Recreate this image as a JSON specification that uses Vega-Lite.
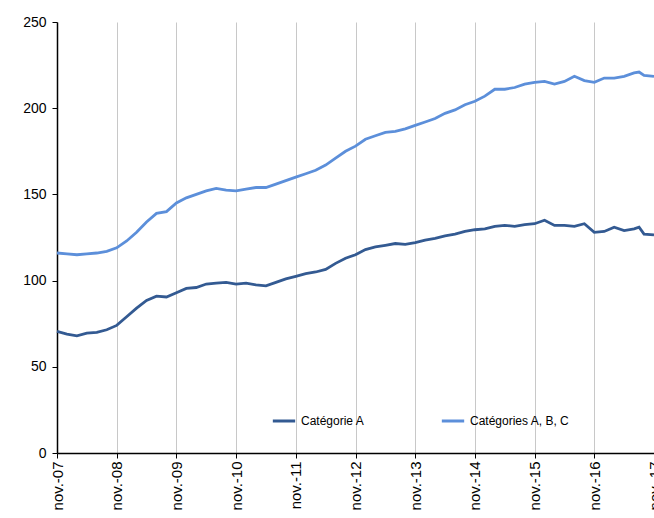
{
  "$schema": "https://vega.github.io/schema/vega-lite/v6.json",
  "width": 597,
  "height": 431,
  "autosize": "none",
  "padding": {"left": 57, "top": 22, "right": 0, "bottom": 65},
  "data": {
    "values": [
      {"m":0,"s":"Catégorie A","v":70.5},{"m":2,"s":"Catégorie A","v":69},{"m":4,"s":"Catégorie A","v":68},{"m":6,"s":"Catégorie A","v":69.5},{"m":8,"s":"Catégorie A","v":70},{"m":10,"s":"Catégorie A","v":71.5},{"m":12,"s":"Catégorie A","v":74},{"m":14,"s":"Catégorie A","v":79},{"m":16,"s":"Catégorie A","v":84},{"m":18,"s":"Catégorie A","v":88.5},{"m":20,"s":"Catégorie A","v":91},{"m":22,"s":"Catégorie A","v":90.5},{"m":24,"s":"Catégorie A","v":93},{"m":26,"s":"Catégorie A","v":95.5},{"m":28,"s":"Catégorie A","v":96},{"m":30,"s":"Catégorie A","v":98},{"m":32,"s":"Catégorie A","v":98.5},{"m":34,"s":"Catégorie A","v":99},{"m":36,"s":"Catégorie A","v":98},{"m":38,"s":"Catégorie A","v":98.5},{"m":40,"s":"Catégorie A","v":97.5},{"m":42,"s":"Catégorie A","v":97},{"m":44,"s":"Catégorie A","v":99},{"m":46,"s":"Catégorie A","v":101},{"m":48,"s":"Catégorie A","v":102.5},{"m":50,"s":"Catégorie A","v":104},{"m":52,"s":"Catégorie A","v":105},{"m":54,"s":"Catégorie A","v":106.5},{"m":56,"s":"Catégorie A","v":110},{"m":58,"s":"Catégorie A","v":113},{"m":60,"s":"Catégorie A","v":115},{"m":62,"s":"Catégorie A","v":118},{"m":64,"s":"Catégorie A","v":119.5},{"m":66,"s":"Catégorie A","v":120.5},{"m":68,"s":"Catégorie A","v":121.5},{"m":70,"s":"Catégorie A","v":121},{"m":72,"s":"Catégorie A","v":122},{"m":74,"s":"Catégorie A","v":123.5},{"m":76,"s":"Catégorie A","v":124.5},{"m":78,"s":"Catégorie A","v":126},{"m":80,"s":"Catégorie A","v":127},{"m":82,"s":"Catégorie A","v":128.5},{"m":84,"s":"Catégorie A","v":129.5},{"m":86,"s":"Catégorie A","v":130},{"m":88,"s":"Catégorie A","v":131.5},{"m":90,"s":"Catégorie A","v":132},{"m":92,"s":"Catégorie A","v":131.5},{"m":94,"s":"Catégorie A","v":132.5},{"m":96,"s":"Catégorie A","v":133},{"m":98,"s":"Catégorie A","v":135},{"m":100,"s":"Catégorie A","v":132},{"m":102,"s":"Catégorie A","v":132},{"m":104,"s":"Catégorie A","v":131.5},{"m":106,"s":"Catégorie A","v":133},{"m":108,"s":"Catégorie A","v":128},{"m":110,"s":"Catégorie A","v":128.5},{"m":112,"s":"Catégorie A","v":131},{"m":114,"s":"Catégorie A","v":129},{"m":116,"s":"Catégorie A","v":130},{"m":117,"s":"Catégorie A","v":131},{"m":118,"s":"Catégorie A","v":127},{"m":120,"s":"Catégorie A","v":126.5},
      {"m":0,"s":"Catégories A, B, C","v":116},{"m":2,"s":"Catégories A, B, C","v":115.5},{"m":4,"s":"Catégories A, B, C","v":115},{"m":6,"s":"Catégories A, B, C","v":115.5},{"m":8,"s":"Catégories A, B, C","v":116},{"m":10,"s":"Catégories A, B, C","v":117},{"m":12,"s":"Catégories A, B, C","v":119},{"m":14,"s":"Catégories A, B, C","v":123},{"m":16,"s":"Catégories A, B, C","v":128},{"m":18,"s":"Catégories A, B, C","v":134},{"m":20,"s":"Catégories A, B, C","v":139},{"m":22,"s":"Catégories A, B, C","v":140},{"m":24,"s":"Catégories A, B, C","v":145},{"m":26,"s":"Catégories A, B, C","v":148},{"m":28,"s":"Catégories A, B, C","v":150},{"m":30,"s":"Catégories A, B, C","v":152},{"m":32,"s":"Catégories A, B, C","v":153.5},{"m":34,"s":"Catégories A, B, C","v":152.5},{"m":36,"s":"Catégories A, B, C","v":152},{"m":38,"s":"Catégories A, B, C","v":153},{"m":40,"s":"Catégories A, B, C","v":154},{"m":42,"s":"Catégories A, B, C","v":154},{"m":44,"s":"Catégories A, B, C","v":156},{"m":46,"s":"Catégories A, B, C","v":158},{"m":48,"s":"Catégories A, B, C","v":160},{"m":50,"s":"Catégories A, B, C","v":162},{"m":52,"s":"Catégories A, B, C","v":164},{"m":54,"s":"Catégories A, B, C","v":167},{"m":56,"s":"Catégories A, B, C","v":171},{"m":58,"s":"Catégories A, B, C","v":175},{"m":60,"s":"Catégories A, B, C","v":178},{"m":62,"s":"Catégories A, B, C","v":182},{"m":64,"s":"Catégories A, B, C","v":184},{"m":66,"s":"Catégories A, B, C","v":186},{"m":68,"s":"Catégories A, B, C","v":186.5},{"m":70,"s":"Catégories A, B, C","v":188},{"m":72,"s":"Catégories A, B, C","v":190},{"m":74,"s":"Catégories A, B, C","v":192},{"m":76,"s":"Catégories A, B, C","v":194},{"m":78,"s":"Catégories A, B, C","v":197},{"m":80,"s":"Catégories A, B, C","v":199},{"m":82,"s":"Catégories A, B, C","v":202},{"m":84,"s":"Catégories A, B, C","v":204},{"m":86,"s":"Catégories A, B, C","v":207},{"m":88,"s":"Catégories A, B, C","v":211},{"m":90,"s":"Catégories A, B, C","v":211},{"m":92,"s":"Catégories A, B, C","v":212},{"m":94,"s":"Catégories A, B, C","v":214},{"m":96,"s":"Catégories A, B, C","v":215},{"m":98,"s":"Catégories A, B, C","v":215.5},{"m":100,"s":"Catégories A, B, C","v":214},{"m":102,"s":"Catégories A, B, C","v":215.5},{"m":104,"s":"Catégories A, B, C","v":218.5},{"m":106,"s":"Catégories A, B, C","v":216},{"m":108,"s":"Catégories A, B, C","v":215},{"m":110,"s":"Catégories A, B, C","v":217.5},{"m":112,"s":"Catégories A, B, C","v":217.5},{"m":114,"s":"Catégories A, B, C","v":218.5},{"m":116,"s":"Catégories A, B, C","v":220.5},{"m":117,"s":"Catégories A, B, C","v":221},{"m":118,"s":"Catégories A, B, C","v":219},{"m":120,"s":"Catégories A, B, C","v":218.5}
    ]
  },
  "mark": {"type": "line", "strokeWidth": 2.8},
  "encoding": {
    "x": {
      "field": "m", "type": "quantitative",
      "scale": {"domain": [0, 120], "nice": false, "zero": false},
      "axis": {
        "title": null,
        "values": [0,12,24,36,48,60,72,84,96,108,120],
        "labelExpr": "'nov.-' + (7 + datum.value / 12 < 10 ? '0' : '') + (7 + datum.value / 12)",
        "labelAngle": -90, "labelAlign": "right", "labelBaseline": "middle",
        "labelFont": "Liberation Sans", "labelFontSize": 15, "labelColor": "#000",
        "grid": true, "gridColor": "#c8c8c8", "gridWidth": 1,
        "domainColor": "#000", "domainWidth": 1.5,
        "tickColor": "#000", "tickSize": 5, "labelPadding": 3
      }
    },
    "y": {
      "field": "v", "type": "quantitative",
      "scale": {"domain": [0, 250], "nice": false},
      "axis": {
        "title": null, "values": [0,50,100,150,200,250], "grid": false,
        "labelFont": "Liberation Sans", "labelFontSize": 14, "labelColor": "#000",
        "domainColor": "#000", "domainWidth": 1.5,
        "tickColor": "#000", "tickSize": 5, "labelPadding": 6
      }
    },
    "color": {
      "field": "s", "type": "nominal",
      "scale": {"domain": ["Catégorie A", "Catégories A, B, C"], "range": ["#335a92", "#5c8fda"]},
      "legend": {
        "title": null, "orient": "none", "direction": "horizontal",
        "legendX": 214, "legendY": 386,
        "symbolType": "stroke", "symbolSize": 500, "symbolStrokeWidth": 3,
        "labelFont": "Liberation Sans", "labelFontSize": 12, "labelColor": "#000",
        "columnPadding": 70
      }
    }
  },
  "config": {"view": {"stroke": null}}
}
